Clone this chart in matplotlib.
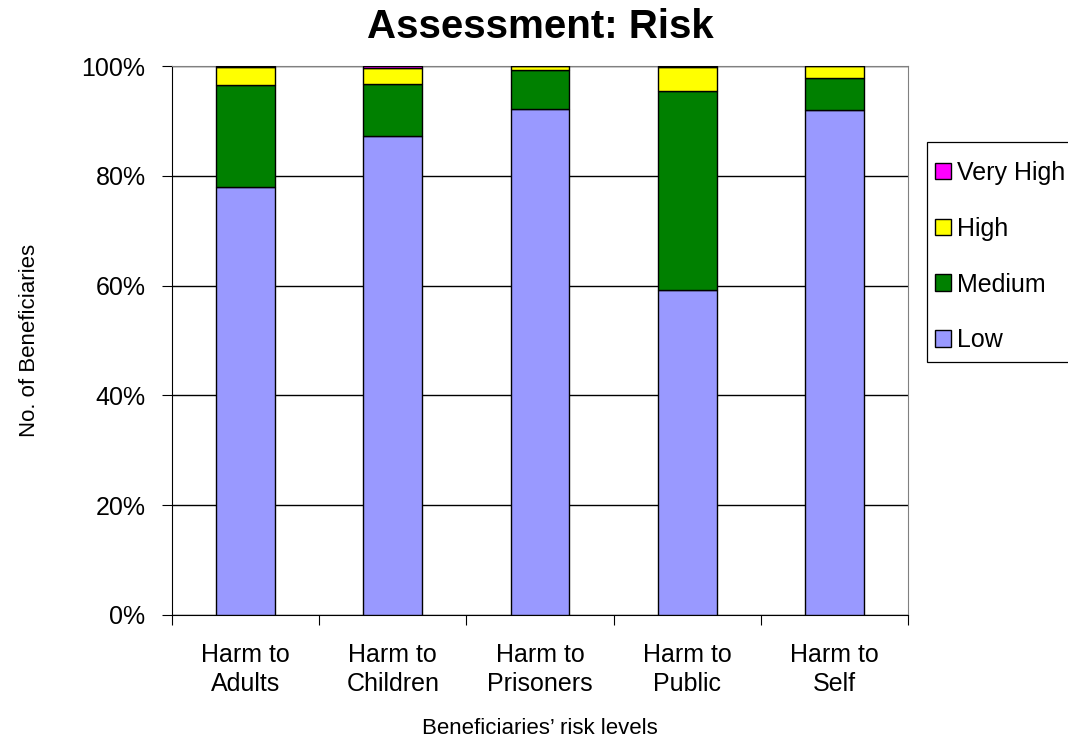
import matplotlib
matplotlib.use("Agg")
import matplotlib.pyplot as plt
from matplotlib.patches import Rectangle
import numpy as np

plt.rcParams['font.family'] = ['Liberation Sans', 'DejaVu Sans']

categories = ["Harm to\nAdults", "Harm to\nChildren", "Harm to\nPrisoners", "Harm to\nPublic", "Harm to\nSelf"]
low = [78.0, 87.2, 92.1, 59.2, 91.9]
medium = [18.5, 9.6, 7.1, 36.2, 5.9]
high = [3.3, 2.8, 0.8, 4.4, 2.2]
very_high = [0.2, 0.4, 0.0, 0.2, 0.0]

series = [("Low", low, "#9999FF"), ("Medium", medium, "#008000"),
          ("High", high, "#FFFF00"), ("Very High", very_high, "#FF00FF")]

W, H = 1068, 739
fig = plt.figure(figsize=(W / 100, H / 100), dpi=100)
ax = fig.add_axes([172 / W, 1 - 615 / H, (908 - 172) / W, (615 - 66) / H])

x = np.arange(len(categories))
bottom = np.zeros(len(categories))
handles = []
for name, vals, col in series:
    v = np.array(vals)
    b = ax.bar(x, v, 0.4, bottom=bottom, color=col, edgecolor="black", linewidth=1.0, label=name, zorder=3)
    bottom += v
    handles.append(b)

ax.set_ylim(0, 100)
ax.set_xlim(-0.5, len(categories) - 0.5)
ax.set_yticks(np.arange(0, 101, 20))
ax.set_yticklabels([f"{v}%" for v in range(0, 101, 20)], fontsize=18)
ax.yaxis.grid(True, color="black", linewidth=1.0, zorder=0)
ax.set_axisbelow(True)

ax.set_xticks(np.arange(-0.5, len(categories), 1.0))
ax.set_xticklabels([])
ax.set_xticks(x, minor=True)
ax.set_xticklabels(categories, minor=True, fontsize=18, linespacing=1.3)
ax.tick_params(axis='x', which='minor', length=0, pad=20)
ax.tick_params(axis='x', which='major', length=7, direction='out', color='black')
ax.tick_params(axis='y', length=7, direction='out', pad=12)

for s in ["top", "right"]:
    ax.spines[s].set_color("#808080")
ax.spines["left"].set_color("black")
ax.spines["bottom"].set_color("black")

fig.text(30 / W, 1 - 340 / H, "No. of Beneficiaries", fontsize=16, rotation=90, ha="center", va="center")
fig.text(540 / W, 1 - 728 / H, "Beneficiaries\u2019 risk levels", fontsize=16, ha="center", va="center")
fig.text(540 / W, 1 - 27 / H, "Assessment: Risk", fontsize=29, fontweight="bold", ha="center", va="center")

# legend frame
fig.patches.append(Rectangle((927 / W, 1 - 362 / H), (1080 - 927) / W, (362 - 142) / H,
                             transform=fig.transFigure, facecolor="white", edgecolor="black",
                             linewidth=0.9, zorder=1))
leg = fig.legend(handles[::-1], [s[0] for s in series][::-1], loc="upper left",
                 bbox_to_anchor=(935 / W, 1 - 161 / H), fontsize=18, frameon=False,
                 handlelength=0.64, handleheight=0.64, handletextpad=0.25,
                 labelspacing=1.27, borderpad=0, borderaxespad=0)
leg.set_zorder(2)

fig.savefig("out.png", dpi=100)
